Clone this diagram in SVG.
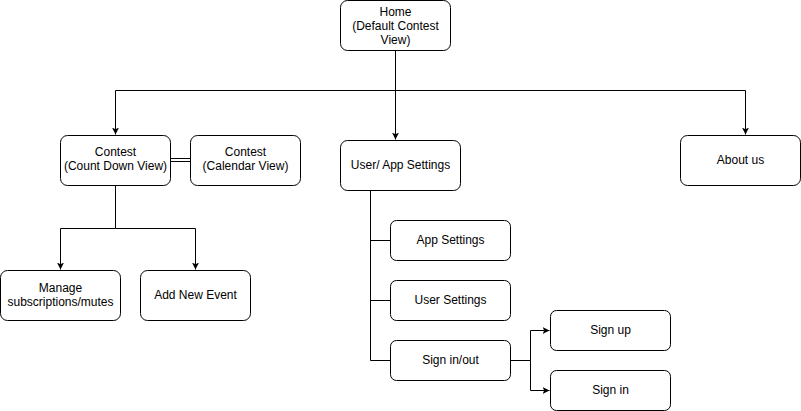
<svg xmlns="http://www.w3.org/2000/svg" width="801" height="411" viewBox="0 0 801 411">
<style>
.n{fill:#fff;stroke:#000;stroke-width:1}
.t{font-family:"Liberation Sans",Arial,sans-serif;font-size:12px;fill:#000;text-anchor:middle;dominant-baseline:central}
.c{fill:none;stroke:#000;stroke-width:1}
</style>
<defs>
<marker id="a" viewBox="0 0 10 10" refX="10" refY="5" markerWidth="7" markerHeight="7" markerUnits="userSpaceOnUse" orient="auto">
<path d="M0,0 L10,5 L0,10 L2.5,5 Z" fill="#000"/>
</marker>
</defs>
<rect width="801" height="411" fill="#fff"/>
<g id="connectors">
<path class="c" d="M395.5,50.5 V90.5 H115.5 V134.5" marker-end="url(#a)"/>
<path class="c" d="M395.5,90.5 V139.5" marker-end="url(#a)"/>
<path class="c" d="M395.5,90.5 H745.5 V134.5" marker-end="url(#a)"/>
<path class="c" d="M170.5,158.5 H190.5 M170.5,161.5 H190.5"/>
<path class="c" d="M115.5,185.5 V228.5 H60.5 V269.5" marker-end="url(#a)"/>
<path class="c" d="M115.5,228.5 H195.5 V269.5" marker-end="url(#a)"/>
<path class="c" d="M370.5,190.5 V360.5 H390.5 M370.5,240.5 H390.5 M370.5,300.5 H390.5"/>
<path class="c" d="M510.5,360.5 H530.5 V330.5 H549.5" marker-end="url(#a)"/>
<path class="c" d="M530.5,360.5 V390.5 H549.5" marker-end="url(#a)"/>
</g>
<g id="home"><rect class="n" x="340.5" y="0.5" width="110" height="50" rx="7"/>
<text class="t" x="395.5" y="12">Home</text><text class="t" x="395.5" y="26">(Default Contest</text><text class="t" x="395.5" y="40">View)</text></g>
<g id="contest-countdown"><rect class="n" x="60.5" y="135.5" width="110" height="50" rx="7"/>
<text class="t" x="115.5" y="152">Contest</text><text class="t" x="115.5" y="166">(Count Down View)</text></g>
<g id="contest-calendar"><rect class="n" x="190.5" y="135.5" width="110" height="50" rx="7"/>
<text class="t" x="245.5" y="152">Contest</text><text class="t" x="245.5" y="166">(Calendar View)</text></g>
<g id="user-app-settings"><rect class="n" x="340.5" y="140.5" width="120" height="50" rx="7"/>
<text class="t" x="400.5" y="165">User/ App Settings</text></g>
<g id="about-us"><rect class="n" x="680.5" y="135.5" width="120" height="50" rx="7"/>
<text class="t" x="740.5" y="160">About us</text></g>
<g id="manage"><rect class="n" x="0.5" y="270.5" width="120" height="50" rx="7"/>
<text class="t" x="60.5" y="288">Manage</text><text class="t" x="60.5" y="302">subscriptions/mutes</text></g>
<g id="add-new-event"><rect class="n" x="140.5" y="270.5" width="110" height="50" rx="7"/>
<text class="t" x="195.5" y="295">Add New Event</text></g>
<g id="app-settings"><rect class="n" x="390.5" y="220.5" width="120" height="40" rx="6"/>
<text class="t" x="450.5" y="240">App Settings</text></g>
<g id="user-settings"><rect class="n" x="390.5" y="280.5" width="120" height="40" rx="6"/>
<text class="t" x="450.5" y="300">User Settings</text></g>
<g id="sign-in-out"><rect class="n" x="390.5" y="340.5" width="120" height="40" rx="6"/>
<text class="t" x="450.5" y="360">Sign in/out</text></g>
<g id="sign-up"><rect class="n" x="550.5" y="310.5" width="120" height="40" rx="6"/>
<text class="t" x="610.5" y="330">Sign up</text></g>
<g id="sign-in"><rect class="n" x="550.5" y="370.5" width="120" height="40" rx="6"/>
<text class="t" x="610.5" y="390">Sign in</text></g>
</svg>
